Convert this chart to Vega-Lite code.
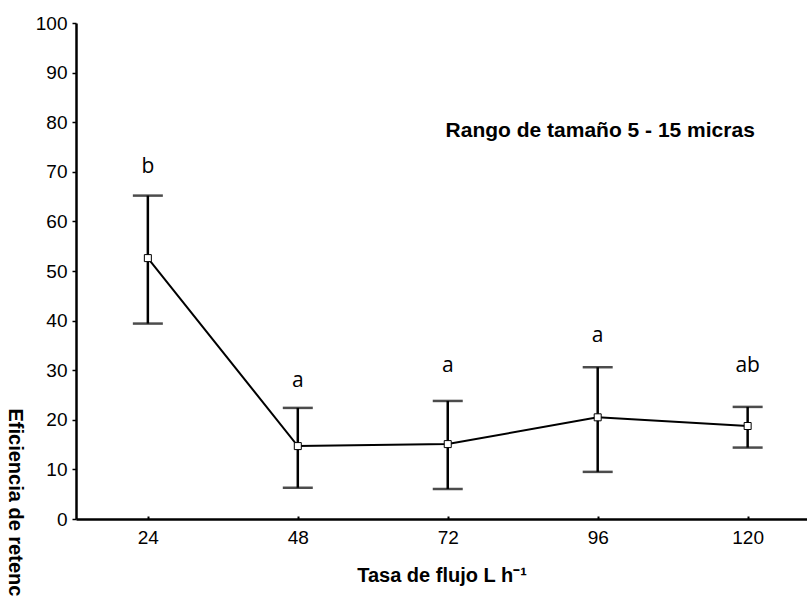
{
  "$schema": "https://vega.github.io/schema/vega-lite/v6.json",
  "width": 731,
  "height": 496,
  "autosize": {"type": "none"},
  "padding": {"left": 76, "top": 23, "right": 0, "bottom": 78},
  "background": "white",
  "config": {
    "view": {"stroke": null},
    "axis": {"grid": false, "domainColor": "black", "tickColor": "black", "labelColor": "black", "titleColor": "black", "labelFont": "Liberation Sans", "titleFont": "Liberation Sans"}
  },
  "datasets": {
    "main": [
      {"flujo": 24, "media": 52.6, "inferior": 39.4, "superior": 65.2, "letra": "b", "letra_y": 69.7},
      {"flujo": 48, "media": 14.7, "inferior": 6.3, "superior": 22.4, "letra": "a", "letra_y": 26.7},
      {"flujo": 72, "media": 15.1, "inferior": 6.05, "superior": 23.8, "letra": "a", "letra_y": 29.7},
      {"flujo": 96, "media": 20.5, "inferior": 9.5, "superior": 30.6, "letra": "a", "letra_y": 35.7},
      {"flujo": 120, "media": 18.75, "inferior": 14.4, "superior": 22.6, "letra": "ab", "letra_y": 29.7}
    ],
    "nota": [
      {"x": 96.4, "y": 78.2, "texto": "Rango de tamaño 5 - 15 micras"}
    ]
  },
  "layer": [
    {
      "data": {"name": "main"},
      "mark": {"type": "rule", "stroke": "black", "strokeWidth": 2.5},
      "encoding": {
        "x": {"field": "flujo", "type": "quantitative", "scale": {"domain": [12.5, 129.5], "nice": false, "zero": false},
          "axis": {"values": [24, 48, 72, 96, 120], "title": "Tasa de flujo L h⁻¹", "titleFontSize": 20, "titleFontWeight": "bold", "titlePadding": 18, "labelFontSize": 19, "labelPadding": 12, "tickSize": -3, "tickWidth": 2, "domainWidth": 2.5}},
        "y": {"field": "inferior", "type": "quantitative", "scale": {"domain": [0, 100], "nice": false},
          "axis": {"values": [0, 10, 20, 30, 40, 50, 60, 70, 80, 90, 100], "title": "Eficiencia de retención (%)", "titleFontSize": 20, "titleFontWeight": "bold", "titleAngle": 90, "titleAlign": "left", "titleBaseline": "middle", "titleX": -62, "titleY": 385, "labelFontSize": 19, "labelPadding": 5, "tickSize": 4, "tickWidth": 1.5, "domainWidth": 2.5}},
        "y2": {"field": "superior"}
      }
    },
    {
      "data": {"name": "main"},
      "mark": {"type": "tick", "orient": "horizontal", "size": 30, "thickness": 2.5, "color": "black"},
      "encoding": {
        "x": {"field": "flujo", "type": "quantitative"},
        "y": {"field": "inferior", "type": "quantitative"}
      }
    },
    {
      "data": {"name": "main"},
      "mark": {"type": "tick", "orient": "horizontal", "size": 30, "thickness": 2.5, "color": "black"},
      "encoding": {
        "x": {"field": "flujo", "type": "quantitative"},
        "y": {"field": "superior", "type": "quantitative"}
      }
    },
    {
      "data": {"name": "main"},
      "mark": {"type": "line", "stroke": "black", "strokeWidth": 2},
      "encoding": {
        "x": {"field": "flujo", "type": "quantitative"},
        "y": {"field": "media", "type": "quantitative"}
      }
    },
    {
      "data": {"name": "main"},
      "mark": {"type": "point", "shape": "square", "size": 49, "filled": true, "fill": "white", "stroke": "black", "strokeWidth": 1, "opacity": 1},
      "encoding": {
        "x": {"field": "flujo", "type": "quantitative"},
        "y": {"field": "media", "type": "quantitative"}
      }
    },
    {
      "data": {"name": "main"},
      "mark": {"type": "text", "font": "Open Sans", "fontSize": 21, "baseline": "alphabetic", "align": "center", "color": "black"},
      "encoding": {
        "x": {"field": "flujo", "type": "quantitative"},
        "y": {"field": "letra_y", "type": "quantitative"},
        "text": {"field": "letra"}
      }
    },
    {
      "data": {"name": "nota"},
      "mark": {"type": "text", "font": "Liberation Sans", "fontSize": 21, "fontWeight": "bold", "baseline": "middle", "align": "center", "color": "black"},
      "encoding": {
        "x": {"field": "x", "type": "quantitative"},
        "y": {"field": "y", "type": "quantitative"},
        "text": {"field": "texto"}
      }
    }
  ]
}
